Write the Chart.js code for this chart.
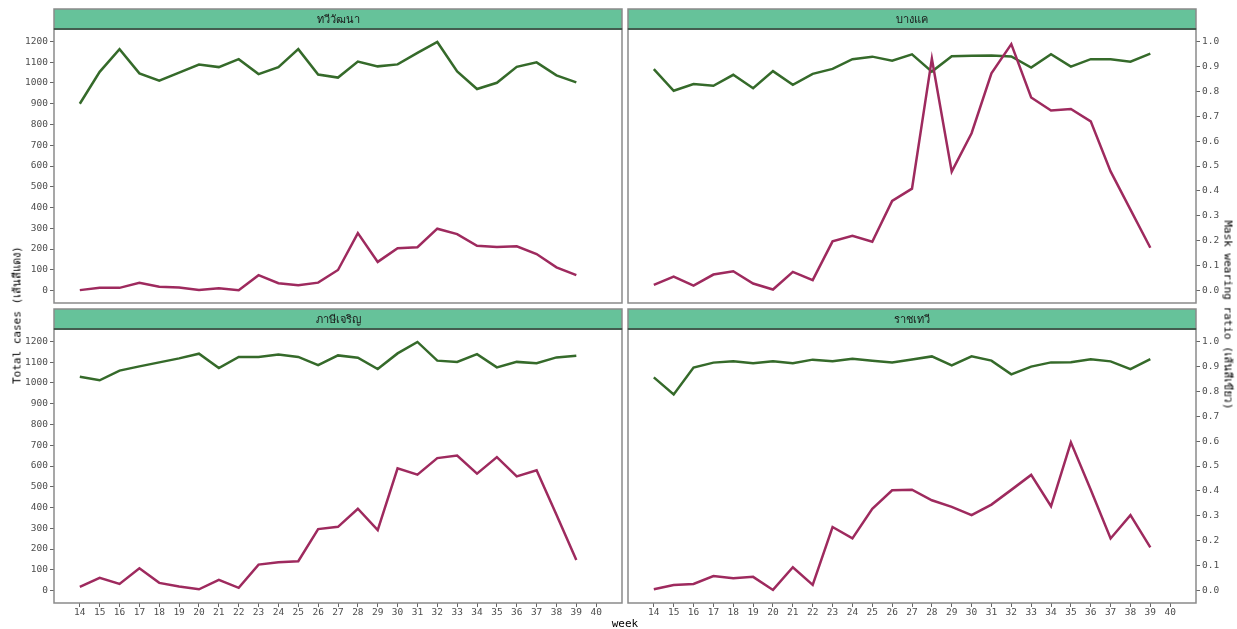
<!DOCTYPE html>
<html>
<head>
<meta charset="utf-8">
<script src="https://cdn.jsdelivr.net/npm/chart.js@4.4.1/dist/chart.umd.min.js"></script>
<style>
html,body{margin:0;padding:0;background:#fff;}
#wrap{position:relative;width:1237px;height:629px;overflow:hidden;background:#fff;}
#wrap canvas{position:absolute;left:0;top:0;}
.t{position:absolute;font-family:"DejaVu Sans Mono",monospace;font-size:11px;color:#000;white-space:nowrap;line-height:1;}
</style>
</head>
<body>
<div id="wrap">
<canvas id="c0" width="1237" height="629"></canvas>
<canvas id="c1" width="1237" height="629"></canvas>
<canvas id="c2" width="1237" height="629"></canvas>
<canvas id="c3" width="1237" height="629"></canvas>
<div class="t" id="ylab" style="left:17px;top:315px;transform:translate(-50%,-50%) rotate(-90deg);"></div>
<div class="t" id="y2lab" style="left:1228px;top:315px;transform:translate(-50%,-50%) rotate(90deg);"></div>
<div class="t" id="xlab" style="left:625px;top:623px;transform:translate(-50%,-50%);"></div>
</div>
<script>
// ---- data ----
const weeks = [14,15,16,17,18,19,20,21,22,23,24,25,26,27,28,29,30,31,32,33,34,35,36,37,38,39];
const weekTicks = [14,15,16,17,18,19,20,21,22,23,24,25,26,27,28,29,30,31,32,33,34,35,36,37,38,39,40];
const caseTicks = [0,100,200,300,400,500,600,700,800,900,1000,1100,1200];
const ratioTicks = [0,0.1,0.2,0.3,0.4,0.5,0.6,0.7,0.8,0.9,1.0];
const districts = ["ทวีวัฒนา","บางแค","ภาษีเจริญ","ราชเทวี"];
const yTitle = "Total cases (เส้นสีแดง)";
const y2Title = "Mask wearing ratio (เส้นสีเขียว)";
const xTitle = "week";

const casesThawiwatthana = [2,13,13,37,18,15,3,11,2,74,35,26,38,99,277,138,204,209,298,272,216,210,213,176,112,74];
const maskThawiwatthana  = [0.750,0.878,0.969,0.872,0.843,0.875,0.907,0.897,0.929,0.869,0.897,0.969,0.867,0.855,0.919,0.900,0.908,0.954,0.998,0.880,0.809,0.834,0.898,0.916,0.864,0.836];

const casesBangkhae = [27,67,24,77,93,34,5,90,50,237,264,235,432,491,1117,573,758,1046,1187,930,867,875,815,574,390,206];
const maskBangkhae  = [0.889,0.802,0.829,0.822,0.866,0.812,0.881,0.826,0.870,0.890,0.929,0.939,0.923,0.948,0.879,0.941,0.943,0.944,0.940,0.895,0.949,0.899,0.929,0.929,0.919,0.951];

const casesPhasicharoen = [18,61,32,107,37,19,6,51,13,125,136,141,296,307,394,291,589,558,638,650,563,643,550,579,365,147];
const maskPhasicharoen  = [0.858,0.844,0.883,0.900,0.916,0.932,0.951,0.893,0.938,0.938,0.948,0.938,0.905,0.944,0.935,0.889,0.952,0.998,0.923,0.918,0.949,0.896,0.918,0.913,0.936,0.943];

const casesRatchathewi = [6,27,32,70,59,66,3,112,27,306,251,394,483,486,435,403,363,414,485,557,406,714,486,251,363,208];
const maskRatchathewi  = [0.856,0.787,0.895,0.915,0.921,0.913,0.921,0.913,0.927,0.921,0.931,0.923,0.916,0.928,0.940,0.904,0.940,0.923,0.868,0.899,0.916,0.917,0.929,0.920,0.889,0.929];

// ---- layout / style ----
const W = 1237, H = 629;
const RED = "#9E2A5E", GREEN = "#356A2A";
const FONT = '"DejaVu Sans Mono", monospace';
const colX = [[54,622],[628,1196]];
const rowY = [[29,303],[329,603]];
const STRIP_H = 20, YW = 40, XH = 20;

document.getElementById('ylab').textContent = yTitle;
document.getElementById('y2lab').textContent = y2Title;
document.getElementById('xlab').textContent = xTitle;

const panelDeco = {
  id: 'panelDeco',
  afterDraw(chart, args, opts) {
    const ctx = chart.ctx, a = chart.chartArea;
    const w = a.right - a.left, h = a.bottom - a.top;
    ctx.save();
    ctx.strokeStyle = '#8a8a8a';
    ctx.lineWidth = 1.5;
    ctx.strokeRect(a.left, a.top, w, h);
    ctx.fillStyle = '#66C29A';
    ctx.fillRect(a.left, a.top - STRIP_H, w, STRIP_H);
    ctx.strokeStyle = '#8a8a8a';
    ctx.strokeRect(a.left, a.top - STRIP_H, w, STRIP_H);
    ctx.strokeStyle = '#2c4a3a';
    ctx.beginPath(); ctx.moveTo(a.left, a.top); ctx.lineTo(a.right, a.top); ctx.stroke();
    ctx.fillStyle = '#1a1a1a';
    ctx.font = '11px ' + FONT;
    ctx.textAlign = 'center';
    ctx.textBaseline = 'middle';
    ctx.fillText(opts.label, (a.left + a.right) / 2, a.top - STRIP_H / 2 + 1);
    ctx.restore();
  }
};

const panels = [
  {name: districts[0], cases: casesThawiwatthana, mask: maskThawiwatthana, row: 0, col: 0},
  {name: districts[1], cases: casesBangkhae, mask: maskBangkhae, row: 0, col: 1},
  {name: districts[2], cases: casesPhasicharoen, mask: maskPhasicharoen, row: 1, col: 0},
  {name: districts[3], cases: casesRatchathewi, mask: maskRatchathewi, row: 1, col: 1}
];

const tickFont = {family: FONT, size: 9.5};
const tickColor = '#4d4d4d';

panels.forEach((p, i) => {
  const isLeft = p.col === 0, isBottom = p.row === 1;
  const [L, R] = colX[p.col];
  const [T, B] = rowY[p.row];
  new Chart(document.getElementById('c' + i), {
    type: 'line',
    data: {
      datasets: [
        {label: 'Total cases', data: weeks.map((w, k) => ({x: w, y: p.cases[k]})), yAxisID: 'y',
         borderColor: RED, backgroundColor: RED, borderWidth: 2.5, pointRadius: 0, tension: 0, fill: false},
        {label: 'Mask wearing ratio', data: weeks.map((w, k) => ({x: w, y: p.mask[k]})), yAxisID: 'y2',
         borderColor: GREEN, backgroundColor: GREEN, borderWidth: 2.5, pointRadius: 0, tension: 0, fill: false}
      ]
    },
    options: {
      responsive: false, animation: false, devicePixelRatio: 1,
      layout: {padding: {
        left: isLeft ? L - YW : L,
        right: isLeft ? W - R : W - R - YW,
        top: T,
        bottom: isBottom ? H - B - XH : H - B
      }},
      plugins: {legend: {display: false}, tooltip: {enabled: false}, panelDeco: {label: p.name}},
      scales: {
        x: {
          type: 'linear', min: 12.7, max: 41.3, display: isBottom,
          afterBuildTicks: s => { s.ticks = weekTicks.map(v => ({value: v})); },
          afterFit: s => { if (isBottom) s.height = XH; else s.height = 0; },
          ticks: {autoSkip: false, maxRotation: 0, padding: 0, font: tickFont, color: tickColor},
          grid: {drawOnChartArea: false, tickLength: 4, color: '#666', lineWidth: 1},
          border: {display: false}
        },
        y: {
          position: 'left', min: -60, max: 1260, display: isLeft,
          afterBuildTicks: s => { s.ticks = caseTicks.map(v => ({value: v})); },
          afterFit: s => { s.width = isLeft ? YW : 0; },
          ticks: {padding: 2, font: tickFont, color: tickColor, callback: v => String(v)},
          grid: {drawOnChartArea: false, tickLength: 4, color: '#666', lineWidth: 1},
          border: {display: false}
        },
        y2: {
          position: 'right', min: -0.05, max: 1.05, display: !isLeft,
          afterBuildTicks: s => { s.ticks = ratioTicks.map(v => ({value: v})); },
          afterFit: s => { s.width = isLeft ? 0 : YW; },
          ticks: {padding: 2, font: tickFont, color: tickColor, callback: v => Number(v).toFixed(1)},
          grid: {drawOnChartArea: false, tickLength: 4, color: '#666', lineWidth: 1},
          border: {display: false}
        }
      }
    },
    plugins: [panelDeco]
  });
});
</script>
</body>
</html>
